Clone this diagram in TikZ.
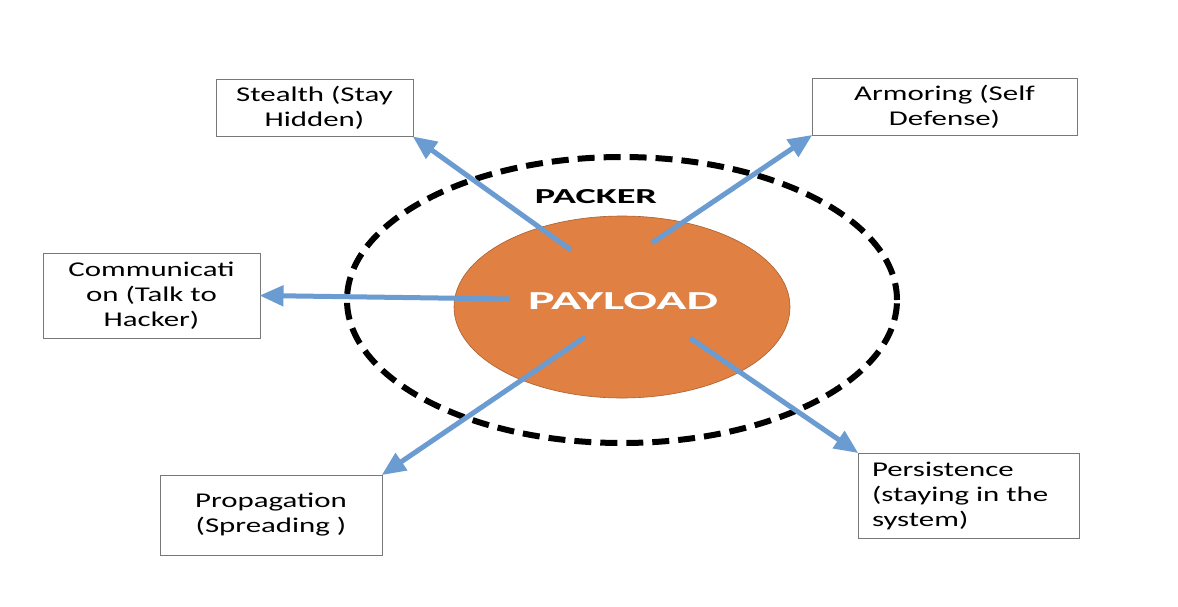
\documentclass[tikz,border=0pt]{standalone}
\usepackage{fontspec}
\setmainfont{Carlito}
\newfontfamily\boxfont[FakeStretch=1.47]{Carlito}
\usetikzlibrary{arrows.meta,shapes.geometric}
\definecolor{payorange}{RGB}{224,128,66}
\definecolor{arrowblue}{RGB}{106,155,209}
\definecolor{boxgray}{RGB}{120,120,120}
\tikzset{
  labelbox/.style={draw=boxgray, line width=1pt, fill=white, align=center,
    font=\boxfont\fontsize{21}{25}\selectfont, inner sep=2pt},
  flowarrow/.style={draw=arrowblue, line width=5pt,
    -{Triangle[length=24pt,width=20pt]}, shorten >=-1pt},
  packring/.style={draw=black, line width=6pt, dash pattern=on 17pt off 9pt},
}
\begin{document}
\begin{tikzpicture}[x=1pt,y=-1pt]
\useasboundingbox[fill=white] (0,0) rectangle (1178,606);
% packer ring
\node[packring, ellipse, minimum width=550pt, minimum height=286pt, inner sep=0] (ring) at (622,300) {};
% payload
\node[draw=payorange!75!black, line width=0.6pt, fill=payorange, ellipse, minimum width=336pt, minimum height=182pt, inner sep=0] (payloadshape) at (622,307) {};
\node[text=white, inner sep=0] (payload) at (623,301) {\resizebox{190pt}{17pt}{\bfseries PAYLOAD}};
\node[text=black, inner sep=0] (packer) at (596,197) {\resizebox{122pt}{14pt}{\bfseries PACKER}};
% boxes
\node[labelbox, minimum width=197pt, minimum height=57pt] (stealth) at (314.5,108) {Stealth (Stay\\Hidden)};
\node[labelbox, minimum width=265pt, minimum height=57pt] (armor) at (944.5,106.5) {Armoring (Self\\Defense)};
\node[labelbox, minimum width=217pt, minimum height=85pt] (comm) at (151.5,295.5) {Communicati\\on (Talk to\\Hacker)};
\node[labelbox, minimum width=222pt, minimum height=80pt] (prop) at (271,515) {Propagation\\(Spreading )};
\node[labelbox, align=left, text width=193pt, inner xsep=14pt, minimum height=85pt] (persist) at (968.5,495.5) {Persistence\\(staying in the\\system)};
% arrow tails
\coordinate (tstealth) at (571,250);
\coordinate (tarmor) at (652,243);
\coordinate (tcomm) at (510,299);
\coordinate (tprop) at (585,337);
\coordinate (tpersist) at (690,338);
% arrows
\draw[flowarrow] (tstealth) -- (stealth.south east);
\draw[flowarrow] (tarmor) -- (armor.south west);
\draw[flowarrow] (tcomm) -- (comm.east);
\draw[flowarrow] (tprop) -- (prop.north east);
\draw[flowarrow] (tpersist) -- (persist.north west);
\end{tikzpicture}
\end{document}
